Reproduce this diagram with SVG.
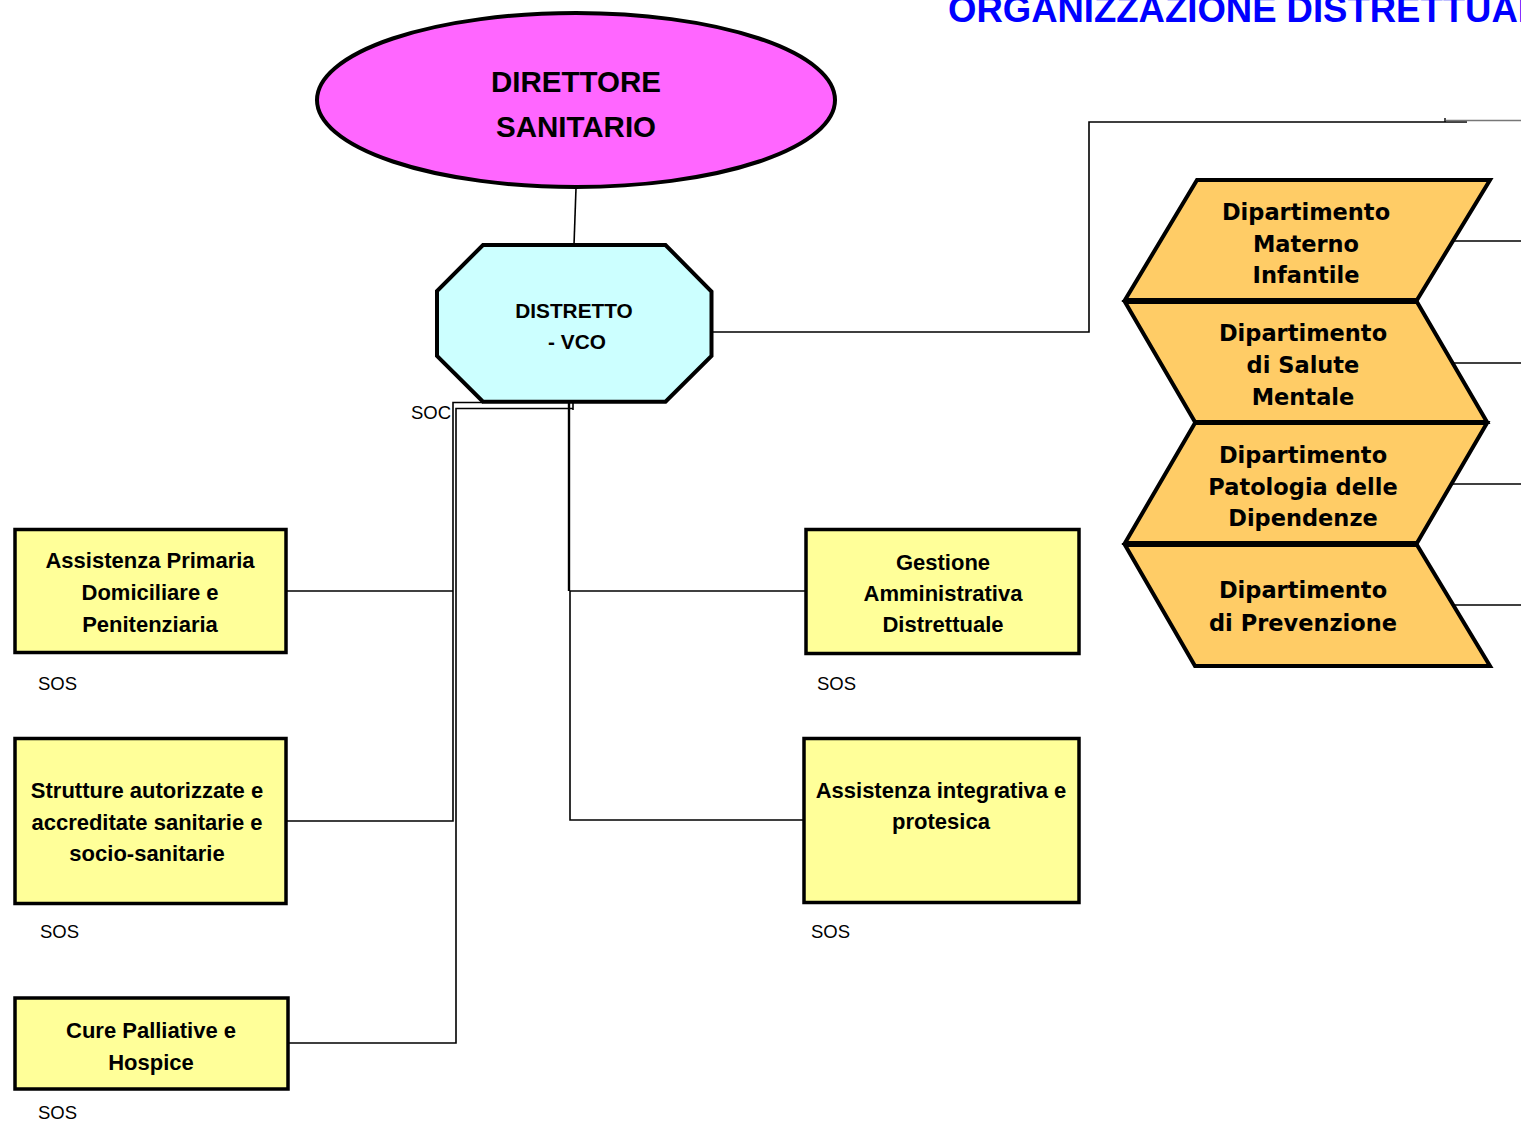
<svg xmlns="http://www.w3.org/2000/svg" width="1521" height="1124" viewBox="0 0 1521 1124">
  <style>
    .box { fill: #FFFF99; stroke: #000; stroke-width: 3.5; }
    .chev { fill: #FFCC66; stroke: #000; stroke-width: 4; stroke-linejoin: miter; }
    .lbl { font-family: "Liberation Sans", Arial, sans-serif; font-weight: bold; font-size: 22px; fill: #000; text-anchor: middle; }
    .big { font-size: 29.5px; }
    .oct { font-size: 20.8px; }
    .dep { font-family: "DejaVu Sans", "Liberation Sans", sans-serif; font-weight: bold; font-size: 22.5px; fill: #000; text-anchor: middle; }
    .tag { font-family: "Liberation Sans", Arial, sans-serif; font-size: 18.5px; fill: #000; }
    .wire { fill: none; stroke: #000; stroke-width: 1.6; }
  </style>

  <rect width="1521" height="1124" fill="#fff"/>

  <!-- heading -->
  <text x="948" y="22" font-family="'Liberation Sans', Arial, sans-serif" font-weight="bold" font-size="36.5" fill="#0000FF">ORGANIZZAZIONE DISTRETTUALE</text>

  <!-- connectors -->
  <g id="connectors">
    <line class="wire" x1="576" y1="188" x2="574" y2="245"/>
    <polyline class="wire" points="711,332 1089,332 1089,122 1467,122"/>
    <line x1="1446" y1="120.5" x2="1521" y2="120.5" stroke="#777" stroke-width="1.4"/>
    <line x1="1445" y1="118" x2="1445" y2="122" stroke="#000" stroke-width="1.4"/>
    <line class="wire" x1="1448" y1="241" x2="1521" y2="241"/>
    <line class="wire" x1="1446" y1="363" x2="1521" y2="363"/>
    <line class="wire" x1="1452" y1="484" x2="1521" y2="484"/>
    <line class="wire" x1="1453" y1="605" x2="1521" y2="605"/>
    <!-- left branch -->
    <polyline class="wire" points="483,402.5 453,402.5 453,821 286,821"/>
    <line class="wire" x1="453" y1="591" x2="286" y2="591"/>
    <polyline class="wire" points="573,408.5 456,408.5 456,1043 288,1043"/>
    <line class="wire" x1="573" y1="402" x2="573" y2="410"/>
    <!-- right branch -->
    <line x1="569" y1="402" x2="569" y2="591" stroke="#000" stroke-width="2.4"/>
    <polyline class="wire" points="570,591 570,820 803,820"/>
    <line class="wire" x1="570" y1="591" x2="805" y2="591"/>
  </g>

  <g id="direttore">
    <ellipse cx="576" cy="100" rx="259" ry="87" fill="#FF66FF" stroke="#000" stroke-width="4"/>
    <text class="lbl big" x="576" y="92">DIRETTORE</text>
    <text class="lbl big" x="576" y="137">SANITARIO</text>
  </g>

  <g id="distretto">
    <polygon points="483,245 665.5,245 711.5,291.5 711.5,356 665.5,401.7 483,401.7 437,356 437,291" fill="#CCFFFF" stroke="#000" stroke-width="4"/>
    <text class="lbl oct" x="574" y="318">DISTRETTO</text>
    <text class="lbl oct" x="577" y="349">- VCO</text>
  </g>
  <text class="tag" x="411" y="419">SOC</text>

  <g id="dip-materno">
    <polygon class="chev" points="1197,180 1490,180 1417,300 1125,300"/>
    <text class="dep" x="1306" y="220">Dipartimento</text>
    <text class="dep" x="1306" y="252">Materno</text>
    <text class="dep" x="1306" y="283">Infantile</text>
  </g>
  <g id="dip-salute-mentale">
    <polygon class="chev" points="1125,302 1417,302 1487,422 1195,422"/>
    <text class="dep" x="1303" y="341">Dipartimento</text>
    <text class="dep" x="1303" y="373">di Salute</text>
    <text class="dep" x="1303" y="405">Mentale</text>
  </g>
  <g id="dip-dipendenze">
    <polygon class="chev" points="1195,423 1487,423 1417,543 1125,543"/>
    <text class="dep" x="1303" y="463">Dipartimento</text>
    <text class="dep" x="1303" y="495">Patologia delle</text>
    <text class="dep" x="1303" y="526">Dipendenze</text>
  </g>
  <g id="dip-prevenzione">
    <polygon class="chev" points="1125,545 1417,545 1490,666 1195,666"/>
    <text class="dep" x="1303" y="598">Dipartimento</text>
    <text class="dep" x="1303" y="631">di Prevenzione</text>
  </g>

  <g id="assistenza-primaria">
    <rect class="box" x="15" y="529.5" width="271" height="123"/>
    <text class="lbl" x="150" y="568">Assistenza Primaria</text>
    <text class="lbl" x="150" y="600">Domiciliare e</text>
    <text class="lbl" x="150" y="632">Penitenziaria</text>
    <text class="tag" x="38" y="690">SOS</text>
  </g>

  <g id="strutture">
    <rect class="box" x="15" y="738.5" width="271" height="165"/>
    <text class="lbl" x="147" y="798">Strutture autorizzate e</text>
    <text class="lbl" x="147" y="830">accreditate sanitarie e</text>
    <text class="lbl" x="147" y="861">socio-sanitarie</text>
    <text class="tag" x="40" y="938">SOS</text>
  </g>

  <g id="cure-palliative">
    <rect class="box" x="15" y="998" width="273" height="91"/>
    <text class="lbl" x="151" y="1038">Cure Palliative e</text>
    <text class="lbl" x="151" y="1070">Hospice</text>
    <text class="tag" x="38" y="1119">SOS</text>
  </g>

  <g id="gestione-amministrativa">
    <rect class="box" x="806" y="529.5" width="273" height="124"/>
    <text class="lbl" x="943" y="570">Gestione</text>
    <text class="lbl" x="943" y="601">Amministrativa</text>
    <text class="lbl" x="943" y="632">Distrettuale</text>
    <text class="tag" x="817" y="690">SOS</text>
  </g>

  <g id="assistenza-integrativa">
    <rect class="box" x="804" y="738.5" width="275" height="164"/>
    <text class="lbl" x="941" y="798">Assistenza integrativa e</text>
    <text class="lbl" x="941" y="829">protesica</text>
    <text class="tag" x="811" y="938">SOS</text>
  </g>
</svg>
